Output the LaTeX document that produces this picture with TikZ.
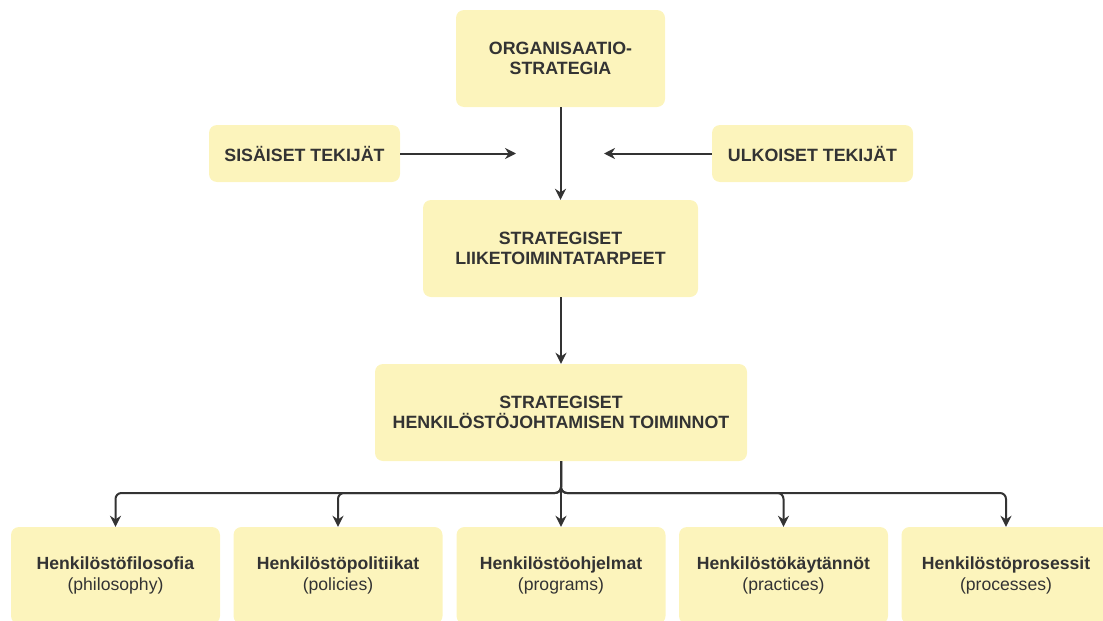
\documentclass[tikz,border=0pt]{standalone}
\usepackage{fontspec}
\setmainfont{Liberation Sans}
\usetikzlibrary{arrows.meta}
\definecolor{boxfill}{RGB}{252,244,188}
\definecolor{ink}{RGB}{51,51,51}
\begin{document}
\begin{tikzpicture}[x=1pt,y=-1pt,
  box/.style={draw=none,fill=boxfill,rounded corners=8pt,align=center,inner sep=0pt,
    text=ink,font=\fontsize{17.8}{20}\selectfont\bfseries},
  leaf/.style={box,minimum width=209pt,minimum height=97pt,font=\fontsize{17.6}{21}\selectfont},
  arr/.style={draw=ink,line width=2pt,-{Stealth[length=11pt,width=11pt]}}]
\useasboundingbox (0,0) rectangle (1103,621);
\begin{scope}
\clip (0,0) rectangle (1103,621);
\node[box,minimum width=209pt,minimum height=97pt] (org) at (560.5,58.5) {ORGANISAATIO-\\STRATEGIA};
\node[box,minimum width=191pt,minimum height=57pt] (sis) at (304.5,153.5) {SISÄISET TEKIJÄT};
\node[box,minimum width=201pt,minimum height=57pt] (ulk) at (812.5,153.5) {ULKOISET TEKIJÄT};
\node[box,minimum width=275pt,minimum height=97pt] (liike) at (560.5,248.5) {STRATEGISET\\LIIKETOIMINTATARPEET};
\node[box,minimum width=372pt,minimum height=97pt] (henk) at (561,412.5) {STRATEGISET\\HENKILÖSTÖJOHTAMISEN TOIMINNOT};
\node[leaf] (b1) at (115.5,575.5) {\textbf{Henkilöstöfilosofia}\\(philosophy)};
\node[leaf] (b2) at (338,575.5) {\textbf{Henkilöstöpolitiikat}\\(policies)};
\node[leaf] (b3) at (561,575.5) {\textbf{Henkilöstöohjelmat}\\(programs)};
\node[leaf] (b4) at (783.5,575.5) {\textbf{Henkilöstökäytännöt}\\(practices)};
\node[leaf] (b5) at (1006,575.5) {\textbf{Henkilöstöprosessit}\\(processes)};
\end{scope}
\coordinate (sisend) at (516,153.5);
\coordinate (ulkend) at (604,153.5);
\coordinate (bus) at (561,493);
\draw[arr] (sis.east) -- (sisend);
\draw[arr] (ulk.west) -- (ulkend);
\draw[arr] (org.south -| liike.north) -- (liike.north);
\draw[arr] (liike.south -| henk.north) -- (henk.north);
\draw[arr] (henk.south) -- (b3.north);
\foreach \t in {b1,b2,b4,b5}{
  \draw[arr,rounded corners=6pt] (henk.south) -- (bus) -| (\t.north);
}
\end{tikzpicture}
\end{document}
